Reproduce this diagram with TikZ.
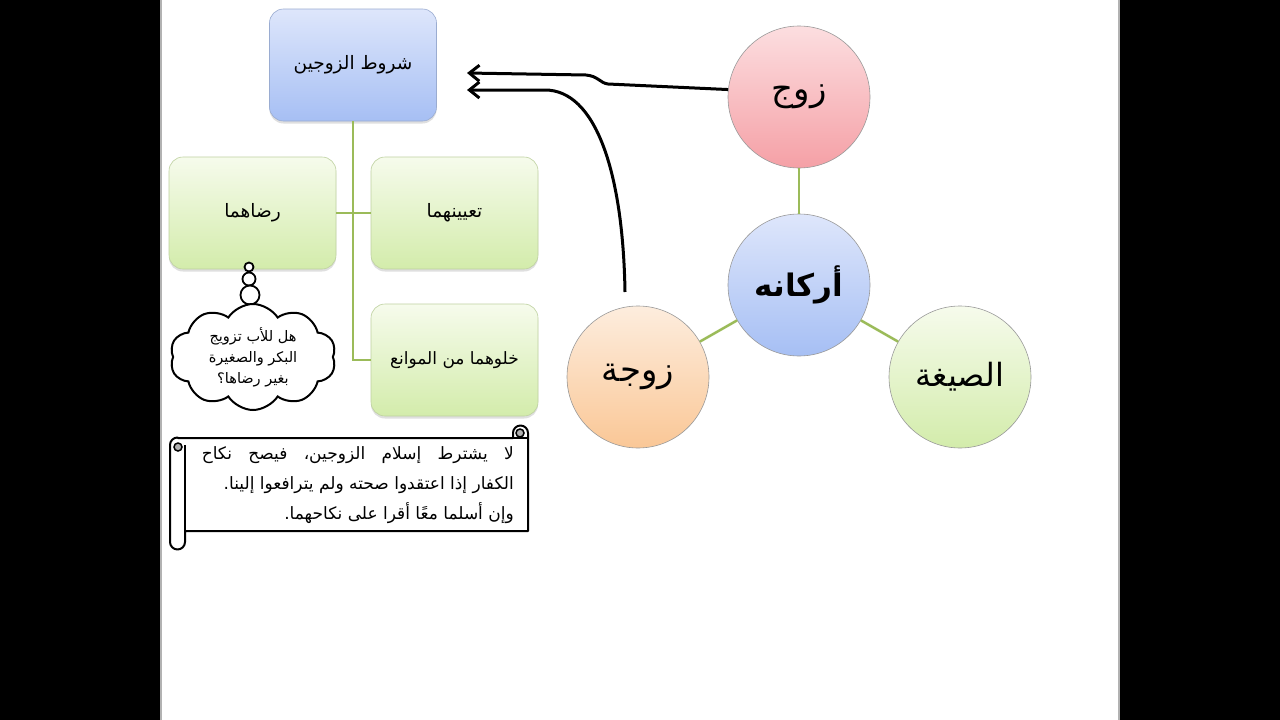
\documentclass[tikz,border=0pt]{standalone}
\usepackage{fontspec}
\newfontfamily\arabicfont[Script=Arabic]{DejaVu Sans}
\TeXXeTstate=1
\usetikzlibrary{arrows.meta,shapes.symbols,shadows}
\newcommand{\ar}[1]{\beginR #1\endR}
\definecolor{olivel}{HTML}{9BBB59}
\definecolor{bluetop}{RGB}{222,230,251}
\definecolor{bluebot}{RGB}{166,191,244}
\definecolor{greentop}{RGB}{246,251,236}
\definecolor{greenbot}{RGB}{211,236,171}
\definecolor{pinktop}{RGB}{252,222,224}
\definecolor{pinkbot}{RGB}{245,160,166}
\definecolor{peachtop}{RGB}{253,237,222}
\definecolor{peachbot}{RGB}{250,199,150}
\definecolor{boxline}{RGB}{170,180,190}
\tikzset{
  rbox/.style={rounded corners=14pt, minimum width=167pt, minimum height=112pt,
    draw=boxline, line width=0.6pt, align=center,
    drop shadow={shadow xshift=0pt, shadow yshift=-2.5pt, opacity=0.25, fill=gray},
    font=\arabicfont\fontsize{18.5}{22}\selectfont},
  bluebox/.style={rbox, top color=bluetop, bottom color=bluebot, draw=bluebot!70!gray},
  greenbox/.style={rbox, top color=greentop, bottom color=greenbot, draw=greenbot!75!gray},
  rcircle/.style={circle, minimum size=142pt, inner sep=0pt, draw=gray!80, line width=0.6pt,
    font=\arabicfont\fontsize{34}{36}\selectfont},
  olink/.style={draw=olivel, line width=2.5pt},
  bigarrow/.style={line width=3pt, -{Straight Barb[length=10pt, width=16pt]}},
  ring/.style={circle, draw, line width=1.8pt, fill=white, inner sep=0pt}
}
\begin{document}
\begin{tikzpicture}[x=1pt, y=-1pt]
\useasboundingbox (0,0) rectangle (1280,720);
\fill[black] (0,0) rectangle (1280,720);
\fill[white] (160,0) rectangle (1120,720);
\draw[gray!60, line width=1.5pt] (161,0) -- (161,720);
\draw[gray!60, line width=1.5pt] (1119,0) -- (1119,720);

% left tree
\node[bluebox] (shurut) at (353,65) {\ar{شروط الزوجين}};
\node[greenbox] (rida) at (252.5,213) {\ar{رضاهما}};
\node[greenbox] (taayin) at (454.5,213) {\ar{تعيينهما}};
\node[greenbox, font=\arabicfont\fontsize{17}{22}\selectfont] (khuluw) at (454.5,360) {\ar{خلوهما من الموانع}};
\draw[olink] (shurut.south) |- (khuluw.west);
\draw[olink] (rida.east) -- (taayin.west);

% thought bubble
\node[ring, minimum size=9pt] (t1) at (249,267) {};
\node[ring, minimum size=13pt] (t2) at (249,279) {};
\node[ring, minimum size=19pt] (t3) at (250,295) {};
\node[cloud, cloud puffs=10, cloud puff arc=115, aspect=1.6, draw, line width=2pt, fill=white,
  minimum width=166pt, minimum height=106pt, inner sep=0pt, align=center,
  font=\arabicfont\fontsize{14.5}{21}\selectfont] (cloud) at (253,357)
  {\ar{هل للأب تزويج}\\\ar{البكر والصغيرة}\\\ar{بغير رضاها؟}};

% scroll
\filldraw[fill=white, draw=black, line width=2pt, line join=round]
  (178,438) -- (513,438) -- (513,433) arc[start angle=180, end angle=0, radius=7.5pt]
  -- (528,531) -- (185,531) -- (185,542) arc[start angle=0, end angle=-180, radius=7.5pt]
  -- (170,445) arc[start angle=180, end angle=90, radius=7.5pt] -- cycle;
\draw[line width=2pt] (185,445) -- (185,531);
\draw[line width=2pt] (513,438) -- (528,438);
\filldraw[fill=gray!60, line width=1.5pt] (178,447) circle[radius=4pt];
\filldraw[fill=gray!60, line width=1.5pt] (520,433) circle[radius=4pt];
\node[anchor=north east, align=right, inner sep=0pt,
  font=\arabicfont\fontsize{17}{30}\selectfont] (scrolltext) at (514,446)
  {\hbox to 312pt{\beginR لا\hfill يشترط\hfill إسلام\hfill الزوجين،\hfill فيصح\hfill نكاح\endR}\\
   \ar{الكفار إذا اعتقدوا صحته ولم يترافعوا إلينا.}\\
   \ar{وإن أسلما معًا أقرا على نكاحهما.}};

% circles
\node[rcircle, top color=pinktop, bottom color=pinkbot] (zawj) at (799,97) {\ar{زوج}};
\node[rcircle, top color=bluetop, bottom color=bluebot, font=\arabicfont\bfseries\fontsize{31}{34}\selectfont] (arkan) at (799,285) {\ar{أركانه}};
\node[rcircle, top color=peachtop, bottom color=peachbot] (zawja) at (638,377) {\ar{زوجة}};
\node[rcircle, top color=greentop, bottom color=greenbot, font=\arabicfont\fontsize{32}{34}\selectfont] (sigha) at (960,377) {\ar{الصيغة}};
\draw[olink] (zawj) -- (arkan);
\draw[olink] (arkan) -- (zawja);
\draw[olink] (arkan) -- (sigha);

% arrows
\coordinate (tipA) at (467,73);
\coordinate (tipB) at (467,90);
\coordinate (startB) at (625,292);
\draw[bigarrow] (zawj.174) -- (608,84) .. controls (600,83) and (598,76) .. (586,75) -- (tipA);
\draw[bigarrow] (startB) .. controls (623,170) and (595,90) .. (545,90) -- (tipB);
\end{tikzpicture}
\end{document}
